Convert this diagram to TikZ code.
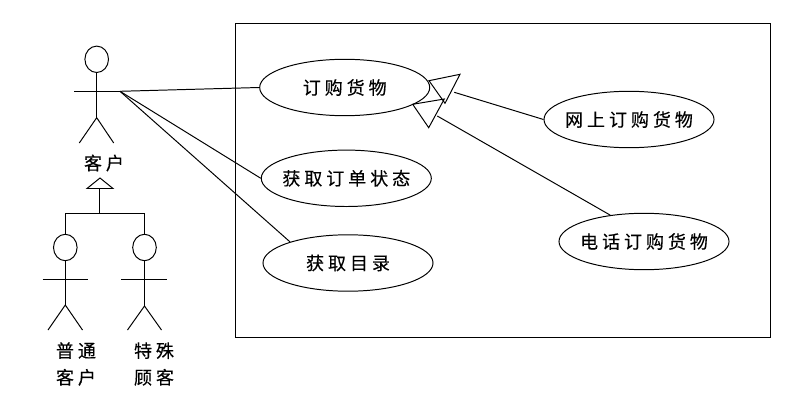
\documentclass[tikz,border=0pt]{standalone}
\usepackage{fontspec}
\newfontfamily\cjk[LetterSpace=22,FakeBold=0.3]{Noto Sans CJK SC}
\usetikzlibrary{shapes.geometric}
\tikzset{
    usecase/.style={draw, ellipse, minimum width=4.25cm, minimum height=1.41cm, inner sep=0pt, font=\cjk\fontsize{12.8}{16}\selectfont},
    actorhead/.style={draw, ellipse, minimum width=0.59cm, minimum height=0.66cm, inner sep=0pt},
    actorname/.style={align=center, inner sep=0pt, font=\cjk\fontsize{12.8}{19}\selectfont}
}
\begin{document}
\begin{tikzpicture}[x=0.025cm, y=-0.025cm, line width=0.7pt]

    \useasboundingbox (0,0) rectangle (799,400);

    \draw (235,23) rectangle (770,337);

    \node[usecase] (order) at (344.7,87.5) {\makebox[0pt]{订购货物}};
    \node[usecase] (status) at (346.3,178.3) {\makebox[0pt]{获取订单状态}};
    \node[usecase] (catalog) at (348,263) {\makebox[0pt]{获取目录}};
    \node[usecase] (online) at (629,119.5) {\makebox[0pt]{网上订购货物}};
    \node[usecase] (phone) at (644,241.5) {\makebox[0pt]{电话订购货物}};

    \node[actorhead] (customer) at (96.7,59.3) {};
    \coordinate (hand) at (120,91.3);
    \coordinate (hip) at (96.7,117.7);
    \draw (customer.south) -- (hip);
    \draw (74,91.3) -- (hand);
    \draw (79.3,143) -- (hip) -- (113.7,143);
    \node[actorname] (customername) at (104,163) {客户};

    \node[actorhead] (normal) at (65.3,247.5) {};
    \coordinate (normalhip) at (65.3,305);
    \draw (normal.south) -- (normalhip);
    \draw (42.5,279.5) -- (87.5,279.5);
    \draw (48,330) -- (normalhip) -- (82.5,330);
    \node[actorname] (normalname) at (76,364) {普通\\客户};

    \node[actorhead] (special) at (144.5,247.5) {};
    \coordinate (specialhip) at (144.5,306);
    \draw (special.south) -- (specialhip);
    \draw (121,279.5) -- (166.5,279.5);
    \draw (127.5,330) -- (specialhip) -- (161.5,330);
    \node[actorname] (specialname) at (154,364) {特殊\\顾客};

    \coordinate (apex) at (100,178);
    \coordinate (base) at (99.7,188.5);
    \coordinate (fork) at (99.7,213.7);
    \draw (apex) -- (113,188.5) -- (87,188.5) -- cycle;
    \draw (base) -- (fork);
    \draw (normal.north) -- (65.3,213.7) -- (144.5,213.7) -- (special.north);

    \draw (hand) -- (order.west);
    \draw (hand) -- (status.west);
    \draw (hand) -- (catalog.160);

    \coordinate (onlinetip) at (429,80.7);
    \coordinate (onlinebase) at (454.3,92.3);
    \draw (onlinetip) -- (460,74.3) -- (445,103.3) -- cycle;
    \draw (onlinebase) -- (online.west);

    \coordinate (phonetip) at (412.7,104.3);
    \coordinate (phonebase) at (437.3,116);
    \draw (phonetip) -- (444.3,99) -- (428.7,127.7) -- cycle;
    \draw (phonebase) -- (phone.142);

\end{tikzpicture}
\end{document}
